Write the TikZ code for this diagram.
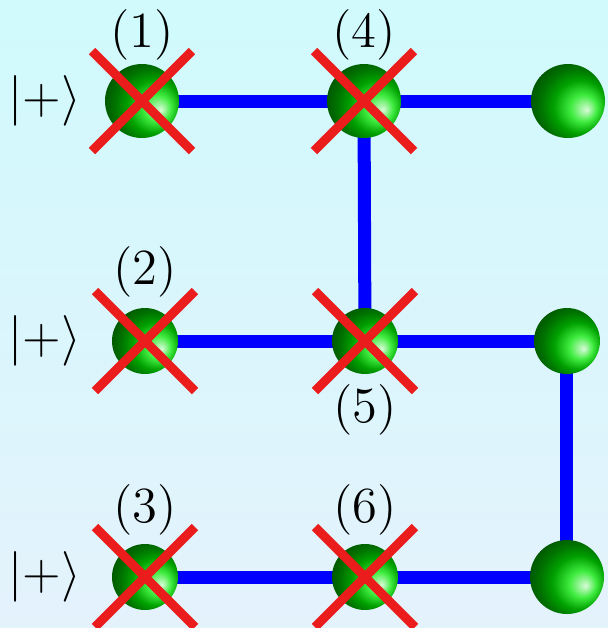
\documentclass[tikz,border=0pt]{standalone}
\usepackage{amsmath}
\usepackage{color, xcolor}
\usepackage{tikz}
\usetikzlibrary{shapes.geometric, arrows, backgrounds}
\definecolor{bgtop}{RGB}{208,250,252}
\definecolor{bgbot}{RGB}{228,242,252}
\definecolor{xred}{RGB}{235,28,28}
\tikzstyle{qubit} = [circle, minimum size=0.66cm, inner sep=0pt,
           shading=ball, ball color=green!90!black, shading angle=-160]
\tikzstyle{bigqubit} = [qubit, minimum size=0.74cm]
\tikzstyle{bond} = [line width=3.7pt, draw=blue]
\tikzstyle{cross} = [line width=2.6pt, draw=xred]

\begin{document}
\begin{tikzpicture}[node distance=2.2cm, font=\Large]
\useasboundingbox (0,0) rectangle (6.08,-6.28);
\node (q1) [bigqubit] at (1.42,-1.01) {};
\node (q4) [bigqubit, right of=q1, xshift=0.02cm] {};
\node (r1) [bigqubit, right of=q4, xshift=-0.16cm] {};
\node (q2) [qubit, below of=q1, xshift=0.03cm, yshift=-0.2cm] {};
\node (q5) [qubit, right of=q2] {};
\node (r2) [qubit, right of=q5, xshift=-0.18cm] {};
\node (q3) [qubit, below of=q2, yshift=-0.16cm] {};
\node (q6) [qubit, right of=q3] {};
\node (r3) [bigqubit, right of=q6, xshift=-0.18cm] {};
\node (k1) [node distance=0.97cm, left of=q1] {$|+\rangle$};
\node (k2) [node distance=1.0cm, left of=q2] {$|+\rangle$};
\node (k3) [node distance=1.0cm, left of=q3] {$|+\rangle$};
\node (n1) [node distance=0.66cm, above of=q1] {(1)};
\node (n4) [node distance=0.66cm, above of=q4] {(4)};
\node (n2) [node distance=0.69cm, above of=q2] {(2)};
\node (n5) [node distance=0.69cm, below of=q5] {(5)};
\node (n3) [node distance=0.67cm, above of=q3] {(3)};
\node (n6) [node distance=0.67cm, above of=q6] {(6)};
\begin{scope}[on background layer]
\shade [top color=bgtop, bottom color=bgbot] (0,0) rectangle (6.08,-6.28);
\draw [bond] (q1.center) -- (q4.center);
\draw [bond] (q4.center) -- (r1.center);
\draw [bond] (q4.center) -- (q5.center);
\draw [bond] (q2.center) -- (q5.center);
\draw [bond] (q5.center) -- (r2.center);
\draw [bond] (r2.center) -- (r3.center);
\draw [bond] (q3.center) -- (q6.center);
\draw [bond] (q6.center) -- (r3.center);
\end{scope}
\foreach \i in {1,...,6}
  \draw [cross] ([shift={(-0.5,0.5)}]q\i.center) -- ([shift={(0.5,-0.5)}]q\i.center)
                ([shift={(-0.5,-0.5)}]q\i.center) -- ([shift={(0.5,0.5)}]q\i.center);
\end{tikzpicture}
\end{document}
